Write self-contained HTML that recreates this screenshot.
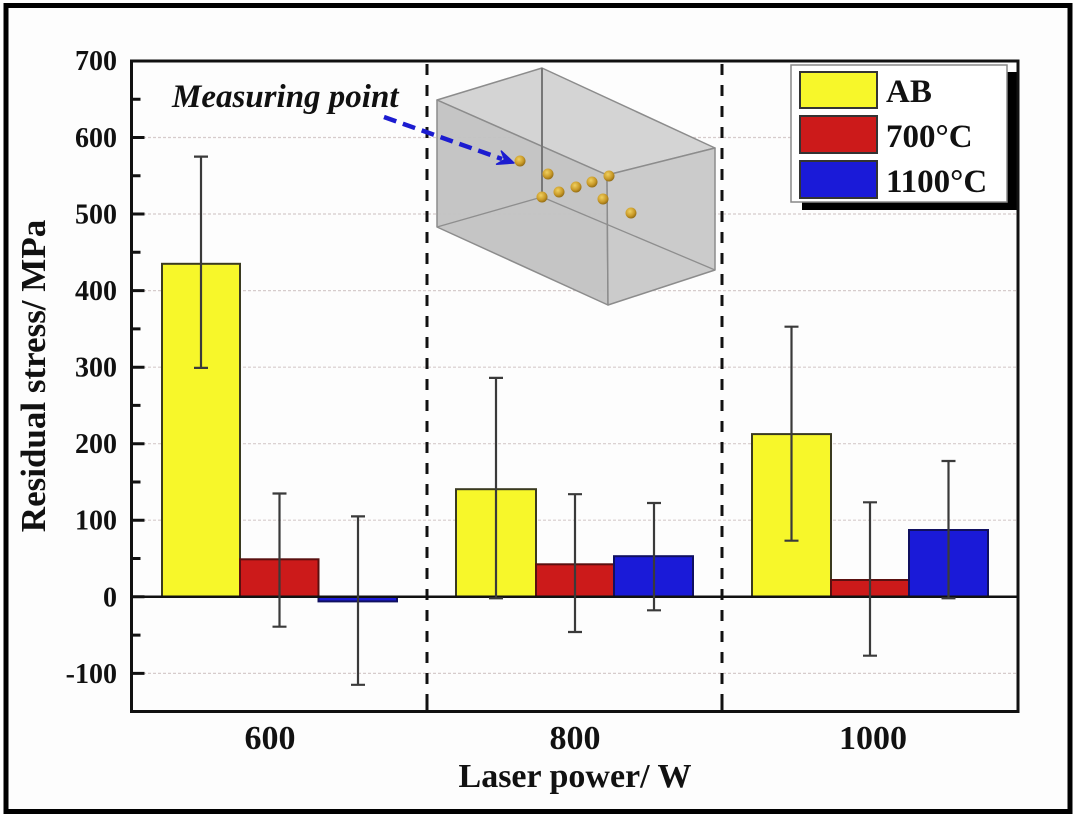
<!DOCTYPE html>
<html><head><meta charset="utf-8"><style>
html,body{margin:0;padding:0;background:#fff;}
svg{display:block;}
text{font-family:"Liberation Serif",serif;font-weight:bold;fill:#111;}
</style></head><body>
<svg width="1080" height="818" viewBox="0 0 1080 818" xmlns="http://www.w3.org/2000/svg">
<defs>
<radialGradient id="gd" cx="0.4" cy="0.35" r="0.7">
<stop offset="0" stop-color="#f0d060"/><stop offset="0.6" stop-color="#c99a28"/><stop offset="1" stop-color="#8a6410"/>
</radialGradient>
</defs>
<rect x="0" y="0" width="1080" height="818" fill="#fff"/>
<rect x="6" y="5.5" width="1064" height="806" fill="#fdfdfd" stroke="#000" stroke-width="5"/>

<!-- gridlines -->
<g stroke="#d6cccc" stroke-width="1.2" stroke-dasharray="3 2">
<line x1="133" y1="137.5" x2="1016" y2="137.5"/>
<line x1="133" y1="214" x2="1016" y2="214"/>
<line x1="133" y1="290.6" x2="1016" y2="290.6"/>
<line x1="133" y1="367.2" x2="1016" y2="367.2"/>
<line x1="133" y1="443.7" x2="1016" y2="443.7"/>
<line x1="133" y1="520.2" x2="1016" y2="520.2"/>
<line x1="133" y1="673.4" x2="1016" y2="673.4"/>
</g>

<!-- dashed separators -->
<g stroke="#111" stroke-width="3" stroke-dasharray="11 10">
<line x1="427" y1="64" x2="427" y2="710"/>
<line x1="722" y1="64" x2="722" y2="710"/>
</g>

<!-- 3D box -->
<g stroke-linejoin="round">
<polygon points="437,100 542,68 715,148 607,175" fill="#d4d4d4" stroke="#8c8c8c" stroke-width="1.5"/>
<polygon points="437,100 607,175 608,305 437,227" fill="#c2c2c2" fill-opacity="0.95" stroke="#8c8c8c" stroke-width="1.5"/>
<polygon points="607,175 715,148 715,270 608,305" fill="#cbcbcb" stroke="#8c8c8c" stroke-width="1.5"/>
<g stroke="#8e8e8e" stroke-width="1.3" fill="none">
<line x1="542" y1="68" x2="542" y2="197"/>
<line x1="437" y1="227" x2="542" y2="197"/>
<line x1="542" y1="197" x2="715" y2="270"/>
</g>
<line x1="542" y1="68" x2="542" y2="197" stroke="#777" stroke-width="2"/>
</g>
<g fill="url(#gd)">
<circle cx="520" cy="161" r="5.5"/>
<circle cx="548" cy="174" r="5.5"/>
<circle cx="542" cy="197" r="5.5"/>
<circle cx="559" cy="192" r="5.5"/>
<circle cx="576" cy="187" r="5.5"/>
<circle cx="592" cy="182" r="5.5"/>
<circle cx="609" cy="176" r="5.5"/>
<circle cx="603" cy="199" r="5.5"/>
<circle cx="631" cy="213" r="5.5"/>
</g>

<!-- arrow -->
<line x1="384" y1="117" x2="502" y2="159" stroke="#1c1cd0" stroke-width="4.5" stroke-dasharray="13 7"/>
<polygon points="514,163 501.3,151 504.6,159.6 496.6,164.2" fill="#1c1cd0" stroke="#1c1cd0" stroke-width="1.5" stroke-linejoin="round"/>
<text x="172" y="107" font-size="33" font-style="italic">Measuring point</text>

<!-- bars -->
<g stroke-width="2">
<rect x="162" y="263.8" width="78" height="333" fill="#f7f72a" stroke="#3a3a20"/>
<rect x="240" y="559.3" width="78.5" height="37.5" fill="#cc1a1a" stroke="#5a1010"/>
<rect x="318.5" y="596.8" width="78.5" height="4.6" fill="#1a1ad8" stroke="#101060"/>

<rect x="456" y="489.2" width="80" height="107.6" fill="#f7f72a" stroke="#3a3a20"/>
<rect x="536" y="564.3" width="78" height="32.5" fill="#cc1a1a" stroke="#5a1010"/>
<rect x="614" y="556.2" width="79" height="40.6" fill="#1a1ad8" stroke="#101060"/>

<rect x="752" y="434.1" width="79" height="162.7" fill="#f7f72a" stroke="#3a3a20"/>
<rect x="831" y="580" width="78" height="16.8" fill="#cc1a1a" stroke="#5a1010"/>
<rect x="909" y="530" width="79" height="66.8" fill="#1a1ad8" stroke="#101060"/>
</g>

<!-- zero line -->
<line x1="131.5" y1="596.8" x2="1018" y2="596.8" stroke="#111" stroke-width="2.5"/>

<!-- error bars -->
<g stroke="#3a3a3a" stroke-width="2.2" fill="none">
<path d="M201,156.6V367.9M194,156.6H208M194,367.9H208"/>
<path d="M279.5,493.5V626.7M272.5,493.5H286.5M272.5,626.7H286.5"/>
<path d="M358,516.4V684.8M351,516.4H365M351,684.8H365"/>
<path d="M496,377.9V598.3M489,377.9H503M489,598.3H503"/>
<path d="M575,494.2V632M568,494.2H582M568,632H582"/>
<path d="M654,503V610.3M647,503H661M647,610.3H661"/>
<path d="M791.5,326.7V540.7M784.5,326.7H798.5M784.5,540.7H798.5"/>
<path d="M870,502.3V655.7M863,502.3H877M863,655.7H877"/>
<path d="M948.5,461V598.3M941.5,461H955.5M941.5,598.3H955.5"/>
</g>

<!-- legend -->
<rect x="802" y="72" width="216" height="138" fill="#000"/>
<rect x="791" y="65" width="216" height="137" fill="#fff" stroke="#888" stroke-width="1.5"/>
<rect x="800" y="72" width="77" height="36" fill="#f7f72a" stroke="#333" stroke-width="2"/>
<rect x="800" y="116" width="77" height="37" fill="#cc1a1a" stroke="#333" stroke-width="2"/>
<rect x="800" y="161" width="77" height="37" fill="#1a1ad8" stroke="#333" stroke-width="2"/>
<text x="886" y="102" font-size="33">AB</text>
<text x="886" y="147" font-size="33">700°C</text>
<text x="886" y="192" font-size="33">1100°C</text>

<!-- axes frame -->
<rect x="131.5" y="61" width="886.5" height="650.5" fill="none" stroke="#111" stroke-width="3"/>

<!-- y ticks -->
<g stroke="#111" stroke-width="3">
<path d="M131.5,137.5h13M131.5,214h13M131.5,290.6h13M131.5,367.2h13M131.5,443.7h13M131.5,520.2h13M131.5,596.8h13M131.5,673.4h13"/>
<path d="M131.5,99.2h9M131.5,175.8h9M131.5,252.3h9M131.5,328.9h9M131.5,405.4h9M131.5,482h9M131.5,558.5h9M131.5,635.1h9"/>
<path d="M427,711v-12M722,711v-12"/>
</g>

<!-- y tick labels -->
<g font-size="28" text-anchor="end">
<text x="117" y="70">700</text>
<text x="117" y="147">600</text>
<text x="117" y="223.5">500</text>
<text x="117" y="300">400</text>
<text x="117" y="376.7">300</text>
<text x="117" y="453.2">200</text>
<text x="117" y="529.7">100</text>
<text x="117" y="606.3">0</text>
<text x="117" y="682.9">-100</text>
</g>

<!-- x tick labels -->
<g font-size="34" text-anchor="middle">
<text x="270" y="749">600</text>
<text x="575" y="749">800</text>
<text x="873" y="749">1000</text>
</g>
<text x="575" y="787" font-size="34" text-anchor="middle">Laser power/ W</text>
<text transform="translate(45,376) rotate(-90)" font-size="35" text-anchor="middle">Residual stress/ MPa</text>
</svg>
</body></html>
